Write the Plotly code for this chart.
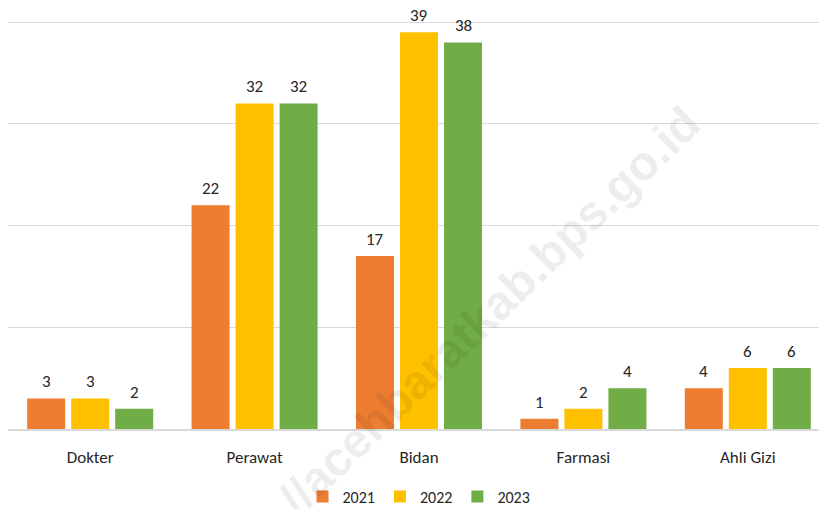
import plotly.graph_objects as go

categories = ["Dokter", "Perawat", "Bidan", "Farmasi", "Ahli Gizi"]
years = ["2021", "2022", "2023"]
values_2021 = [3, 22, 17, 1, 4]
values_2022 = [3, 32, 39, 2, 6]
values_2023 = [2, 32, 38, 4, 6]
colors = ["#ED7D31", "#FFC000", "#70AD47"]

font_family = "Carlito, Lato, 'Open Sans', sans-serif"

fig = go.Figure()
series = [values_2021, values_2022, values_2023]
for name, vals, col in zip(years, series, colors):
    fig.add_trace(go.Bar(
        x=categories, y=vals, name=name, marker=dict(color=col, line=dict(width=0)),
    ))

# value labels above the bars
slot_px = 44
for i, vals in enumerate(series):
    for cat, v in zip(categories, vals):
        fig.add_annotation(
            x=cat, y=v, xref="x", yref="y", text=str(v), showarrow=False,
            xshift=(i - 1) * slot_px, yshift=6, yanchor="bottom", height=19,
            borderpad=0, font=dict(size=17, color="#262626", family=font_family),
        )

fig.add_annotation(
    text="//acehbaratkab.bps.go.id", xref="paper", yref="paper",
    x=0.586, y=0.29, xanchor="center", yanchor="middle", showarrow=False, textangle=-44,
    font=dict(size=48, color="rgba(0,0,0,0.07)", family="Liberation Sans, Arial", weight="bold"),
)

fig.update_layout(
    width=827, height=509,
    margin=dict(l=0, r=5, t=12, b=88),
    paper_bgcolor="white", plot_bgcolor="white",
    barmode="group", bargap=0.197, bargroupgap=0.136,
    font=dict(family=font_family, size=17, color="#262626"),
    showlegend=True,
    legend=dict(orientation="h", x=0.5, xanchor="center", y=-0.165, yanchor="middle",
                font=dict(size=16, color="#262626"), itemwidth=30, traceorder="normal"),
    xaxis=dict(showline=True, linecolor="#D9D9D9", linewidth=1.5, ticks="",
               ticklabelstandoff=12, tickfont=dict(size=17, color="#262626")),
    yaxis=dict(range=[0, 40.2], tickvals=[0, 10, 20, 30, 40], showticklabels=False,
               gridcolor="#D9D9D9", gridwidth=1, zeroline=False, showline=False),
)

fig.write_html("out.html")
